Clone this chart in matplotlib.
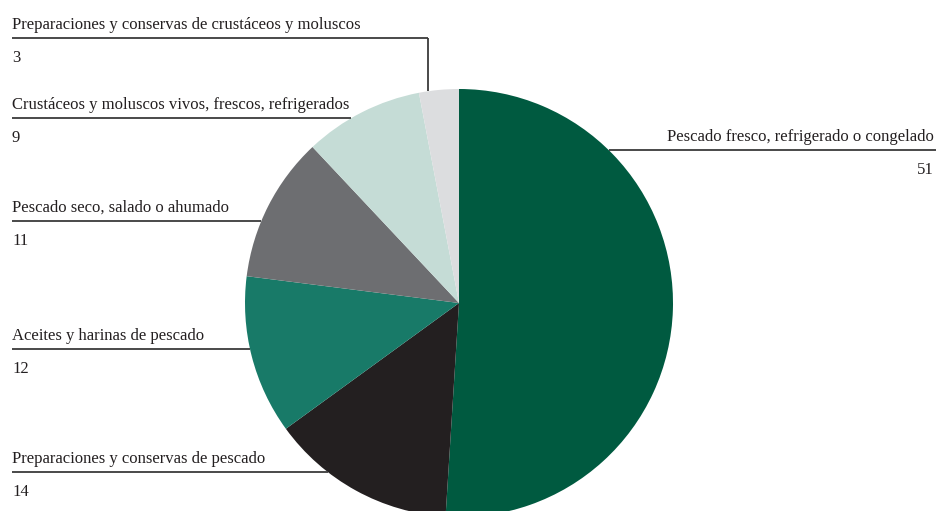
import matplotlib.pyplot as plt
from matplotlib.patches import Circle

labels = [
    "Pescado fresco, refrigerado o congelado",
    "Preparaciones y conservas de pescado",
    "Aceites y harinas de pescado",
    "Pescado seco, salado o ahumado",
    "Crustáceos y moluscos vivos, frescos, refrigerados",
    "Preparaciones y conservas de crustáceos y moluscos",
]
values = [51, 14, 12, 11, 9, 3]
colors = ["#005a40", "#231f20", "#187a68", "#6d6e71", "#c5dcd6", "#dcdddf"]

W, H = 936, 511
cx, cy, r = 459, H - 303, 214

fig = plt.figure(figsize=(W / 100, H / 100), dpi=100)
ax = fig.add_axes([0, 0, 1, 1])
ax.set_xlim(0, W)
ax.set_ylim(0, H)
ax.axis("off")

ax.pie(values, colors=colors, startangle=90, counterclock=False,
       center=(cx, cy), radius=r, frame=True,
       wedgeprops=dict(linewidth=0))
ax.set_xlim(0, W)
ax.set_ylim(0, H)
ax.set_aspect("equal")
ax.axis("off")

font = dict(family="Liberation Serif", size=12, color="#231f20")
line_kw = dict(color="#3a3a3a", linewidth=1.3, solid_capstyle="butt")

def edge_x(y, side):
    dy = y - cy
    dx = max(r * r - dy * dy, 0) ** 0.5
    return cx + side * dx

# label rows on the left: (index, leader y in pixels)
left_rows = [(5, 38), (4, 118), (3, 221), (2, 349), (1, 472)]
for idx, ypix in left_rows:
    y = H - ypix
    if idx == 5:
        xe = 428
        ax.plot([12, xe], [y, y], **line_kw)
        ytop = cy + (r * r - (xe - cx) ** 2) ** 0.5
        ax.plot([xe, xe], [y, ytop], **line_kw)
    else:
        ax.plot([12, edge_x(y, -1)], [y, y], **line_kw)
    ax.text(12, y + 9, labels[idx], ha="left", va="baseline", **font)
    ax.text(12, y - 24, str(values[idx]), ha="left", va="baseline", **font)

# right-hand label
y = H - 150
ax.plot([edge_x(y, 1), W], [y, y], **line_kw)
ax.text(934, y + 9, labels[0], ha="right", va="baseline", **font)
ax.text(934, y - 24, str(values[0]), ha="right", va="baseline", **font)

fig.savefig("out.png", dpi=100)
